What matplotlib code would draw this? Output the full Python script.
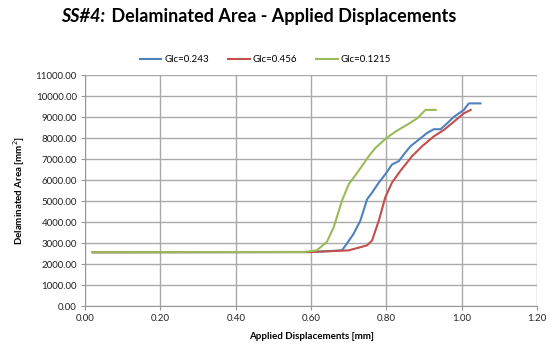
import matplotlib.pyplot as plt
from matplotlib.ticker import FormatStrFormatter

# displacement [mm] / delaminated area [mm^2] for each fracture toughness
disp_0243 = [0.02, 0.60, 0.682, 0.695, 0.713, 0.731, 0.749, 0.762, 0.780, 0.797, 0.815,
             0.833, 0.846, 0.864, 0.886, 0.908, 0.926, 0.944, 0.962, 0.980, 1.006,
             1.012, 1.019, 1.050]
area_0243 = [2560, 2570, 2650, 2970, 3440, 4070, 5090, 5400, 5880, 6270, 6740,
             6900, 7210, 7610, 7920, 8240, 8420, 8420, 8710, 9020, 9340,
             9490, 9650, 9650]

disp_0456 = [0.02, 0.60, 0.700, 0.749, 0.762, 0.780, 0.797, 0.815, 0.837, 0.868,
             0.895, 0.926, 0.953, 0.980, 1.006, 1.024]
area_0456 = [2560, 2570, 2650, 2890, 3120, 4070, 5170, 5880, 6430, 7130,
             7610, 8080, 8390, 8790, 9180, 9340]

disp_01215 = [0.02, 0.58, 0.615, 0.642, 0.660, 0.682, 0.700, 0.726, 0.753, 0.771,
              0.800, 0.828, 0.855, 0.882, 0.904, 0.931]
area_01215 = [2560, 2575, 2650, 3050, 3750, 5010, 5800, 6430, 7130, 7530,
              8000, 8350, 8630, 8940, 9340, 9340]

plt.rcParams['font.family'] = ['Lato', 'DejaVu Sans']

fig = plt.figure(figsize=(5.53, 3.46), dpi=100)
ax = fig.add_axes([0.154, 0.1156, 0.817, 0.6675])

ax.plot(disp_0243, area_0243, color='#4F81BD', lw=1.5, label='Glc=0.243')
ax.plot(disp_0456, area_0456, color='#C0504D', lw=1.5, label='Glc=0.456')
ax.plot(disp_01215, area_01215, color='#9BBB59', lw=1.5, label='Glc=0.1215')

ax.set_xlim(0, 1.2)
ax.set_ylim(0, 11000)
ax.set_xticks([0, 0.2, 0.4, 0.6, 0.8, 1.0, 1.2])
ax.set_yticks(range(0, 11001, 1000))
ax.xaxis.set_major_formatter(FormatStrFormatter('%.2f'))
ax.yaxis.set_major_formatter(FormatStrFormatter('%.2f'))
ax.tick_params(labelsize=7, colors='#222222', length=3, width=0.8,
               color='#999999', pad=3)
ax.grid(True, color='#aaaaaa', lw=1.0)
ax.set_axisbelow(True)
for side in ['top', 'right']:
    ax.spines[side].set_visible(False)
for side in ['left', 'bottom']:
    ax.spines[side].set_color('#999999')

ax.set_xlabel('Applied Displacements [mm]', fontsize=7, fontweight='bold', labelpad=6)
ax.set_ylabel('Delaminated Area [mm$^2$]', fontsize=7, fontweight='bold', labelpad=6)

# title: italic specimen tag followed by the plain bold part
fig.text(0.19, 0.951, 'SS#4:', fontsize=13, fontweight='bold', style='italic',
         ha='right', va='center')
fig.text(0.193, 0.951, ' Delaminated Area - Applied Displacements', fontsize=13,
         fontweight='bold', ha='left', va='center')

fig.legend(loc='center', bbox_to_anchor=(0.48, 0.827), ncol=3, frameon=False,
           fontsize=7, handlelength=2.2, columnspacing=2.0, handletextpad=0.3)

fig.savefig('out.png', dpi=100)
